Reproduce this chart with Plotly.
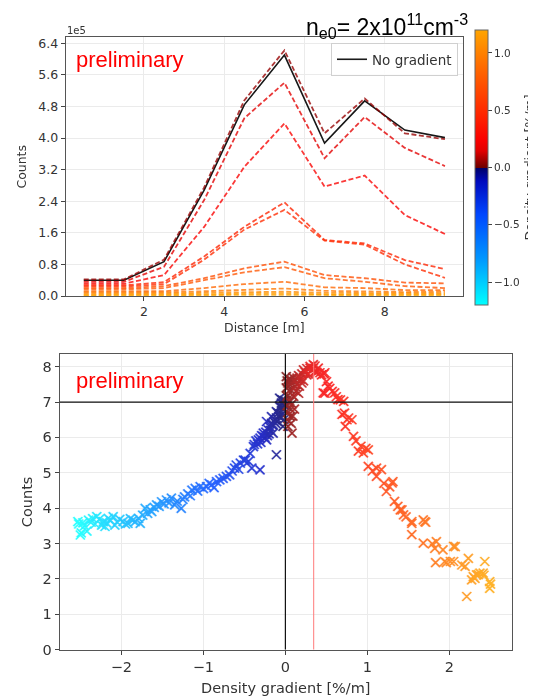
import plotly.graph_objects as go
from plotly.colors import sample_colorscale

# ---------------- data: top panel (counts in units of 1e5) ----------------
distance = [0.5, 1.5, 2.5, 3.5, 4.5, 5.5, 6.5, 7.5, 8.5, 9.5]
no_gradient = [0.40, 0.40, 0.87, 2.68, 4.84, 6.10, 3.87, 4.94, 4.20, 4.01]

gradients = [0.05, 0.15, 0.25, 0.45, 0.50, 0.70, 0.75, 0.85, 0.95, 1.05, 1.15, 1.20]
counts_g1 = [0.42, 0.42, 0.92, 2.75, 4.95, 6.22, 4.12, 5.00, 4.12, 3.97]
counts_g2 = [0.36, 0.36, 0.74, 2.43, 4.50, 5.40, 3.49, 4.53, 3.75, 3.29]
counts_g3 = [0.31, 0.31, 0.53, 1.75, 3.27, 4.37, 2.77, 3.05, 2.05, 1.57]
counts_g4 = [0.27, 0.27, 0.35, 1.00, 1.75, 2.37, 1.42, 1.33, 0.91, 0.68]
counts_g5 = [0.24, 0.24, 0.30, 0.92, 1.68, 2.18, 1.40, 1.30, 0.80, 0.46]
counts_g6 = [0.20, 0.20, 0.25, 0.45, 0.70, 0.87, 0.53, 0.45, 0.34, 0.32]
counts_g7 = [0.17, 0.17, 0.20, 0.40, 0.60, 0.73, 0.45, 0.36, 0.25, 0.20]
counts_g8 = [0.12, 0.12, 0.12, 0.20, 0.30, 0.36, 0.22, 0.20, 0.15, 0.15]
counts_g9 = [0.09, 0.09, 0.09, 0.12, 0.16, 0.19, 0.13, 0.11, 0.10, 0.11]
counts_g10 = [0.06, 0.06, 0.06, 0.08, 0.10, 0.11, 0.08, 0.07, 0.07, 0.07]
counts_g11 = [0.03, 0.03, 0.03, 0.04, 0.06, 0.07, 0.04, 0.04, 0.04, 0.04]
counts_g12 = [0.01, 0.01, 0.01, 0.02, 0.03, 0.03, 0.02, 0.02, 0.02, 0.02]
gradient_counts = [counts_g1, counts_g2, counts_g3, counts_g4, counts_g5, counts_g6,
                   counts_g7, counts_g8, counts_g9, counts_g10, counts_g11, counts_g12]

top_xticks = [2, 4, 6, 8]
top_yticks = [0.0, 0.8, 1.6, 2.4, 3.2, 4.0, 4.8, 5.6, 6.4]
cbar_ticks = [-1.0, -0.5, 0.0, 0.5, 1.0]
cbar_ticktext = ["\u22121.0", "\u22120.5", "0.0", "0.5", "1.0"]

# ---------------- data: bottom panel ----------------
grad_x = [
    -2.53, -2.52, -2.50, -2.49, -2.47, -2.45, -2.42, -2.40, -2.37, -2.35, -2.32, -2.30, -2.27, -2.24,
    -2.22, -2.20, -2.18, -2.16, -2.13, -2.10, -2.08, -2.05, -2.02, -1.98, -1.95, -1.92, -1.89, -1.86,
    -1.83, -1.79, -1.77, -1.74,
    -1.71, -1.68, -1.65, -1.63, -1.60, -1.57, -1.54, -1.51, -1.48, -1.45, -1.42, -1.39, -1.35, -1.32,
    -1.27, -1.25, -1.23, -1.19, -1.16, -1.14, -1.10, -1.07, -1.04, -1.00, -0.96, -0.93, -0.90, -0.87,
    -0.84, -0.80, -0.76, -0.72, -0.68, -0.65, -0.62, -0.60, -0.57, -0.55, -0.51, -0.49, -0.45, -0.43,
    -0.41, -0.39, -0.31,
    -0.38, -0.36, -0.34, -0.33, -0.31, -0.30, -0.29, -0.27, -0.27, -0.25, -0.24, -0.23, -0.23, -0.22,
    -0.21, -0.20, -0.19, -0.18, -0.17, -0.17, -0.16, -0.15, -0.15, -0.14, -0.13, -0.12, -0.11, -0.11,
    -0.11, -0.10, -0.09, -0.08, -0.07, -0.07, -0.06, -0.05, -0.05, -0.04, -0.04, -0.03, -0.03, -0.02,
    -0.02, -0.01, -0.01,
    0.01, 0.01, 0.02, 0.02, 0.02, 0.03, 0.03, 0.03, 0.03, 0.04, 0.04, 0.05, 0.05, 0.05, 0.06, 0.06,
    0.07, 0.07, 0.07, 0.08, 0.08, 0.08, 0.09, 0.09, 0.10, 0.10, 0.11, 0.12, 0.12, 0.13, 0.14, 0.14,
    0.16, 0.16,
    0.17, 0.18, 0.20, 0.20, 0.22, 0.22, 0.24, 0.26, 0.26, 0.28, 0.30, 0.30, 0.32, 0.34, 0.34, 0.36,
    0.36, 0.38, 0.40, 0.42, 0.44, 0.46, 0.47, 0.48, 0.48, 0.50, 0.52, 0.54, 0.57, 0.60, 0.62, 0.64,
    0.67, 0.69, 0.71, 0.72, 0.73, 0.75, 0.77, 0.81, 0.83, 0.86, 0.89, 0.92, 0.95, 0.98, 1.01,
    1.01, 1.06, 1.11, 1.11, 1.17, 1.20, 1.23, 1.27, 1.30, 1.31, 1.33, 1.37, 1.40, 1.42, 1.44, 1.47,
    1.54, 1.54, 1.54, 1.68, 1.70, 1.71, 1.68, 1.79,
    1.82, 1.84, 1.83, 1.92, 1.94, 1.96, 2.01, 2.05, 2.05, 2.07, 2.15, 2.19, 2.21, 2.23, 2.27, 2.29,
    2.31, 2.33, 2.35, 2.37, 2.41, 2.42, 2.43, 2.49, 2.50, 2.49,
]
counts_y = [
    3.62, 3.55, 3.24, 3.30, 3.58, 3.50, 3.35, 3.66, 3.60, 3.70, 3.55, 3.76, 3.68, 3.52,
    3.62, 3.48, 3.58, 3.71, 3.65, 3.76, 3.52, 3.60, 3.68, 3.62, 3.55, 3.57, 3.70, 3.66,
    3.62, 3.71, 3.57, 3.80,
    3.99, 3.85, 3.95, 3.90, 4.02, 4.09, 4.05, 4.18, 4.12, 4.23, 4.15, 4.28, 4.09, 4.20,
    3.99, 4.25, 4.32, 4.40, 4.35, 4.51, 4.56, 4.48, 4.61, 4.55, 4.61, 4.70, 4.66, 4.58,
    4.75, 4.80, 4.84, 4.90, 4.94, 5.05, 5.13, 5.22, 5.10, 5.27, 5.36, 5.36, 5.32, 5.55,
    5.13, 5.74, 5.08,
    5.80, 5.90, 5.82, 5.93, 5.98, 5.86, 6.05, 6.02, 6.12, 6.00, 6.15, 5.93, 6.45, 6.05,
    6.21, 6.10, 6.30, 6.20, 6.40, 6.59, 6.35, 6.12, 6.36, 6.45, 6.50, 6.40, 6.55, 6.73,
    5.51, 6.45, 6.69, 6.60, 6.87, 7.11, 6.55, 6.97, 6.85, 6.65, 7.06, 6.31, 6.95, 6.80,
    6.50, 7.05, 6.90,
    7.40, 7.72, 7.60, 7.16, 6.90, 7.20, 6.70, 7.54, 6.31, 7.45, 6.45, 7.00, 7.65, 6.83, 7.35, 6.59,
    6.40, 7.55, 7.63, 6.95, 6.12, 7.20, 6.60, 7.70, 7.16, 7.40, 6.80, 7.44, 7.60, 7.30, 7.68, 7.50,
    7.25, 7.75,
    7.45, 7.65, 7.54, 7.80, 7.91, 7.60, 7.85, 7.77, 7.95, 7.80, 7.96, 8.01, 7.90, 8.06, 7.95, 7.87,
    8.02, 7.85, 7.96, 7.83, 7.77, 7.26, 7.80, 7.83, 7.25, 7.58, 7.45, 7.39, 7.30, 7.26, 7.15, 7.07,
    7.06, 6.65, 7.02, 6.69, 6.31, 6.50, 6.55, 6.50, 6.03, 5.90, 5.61, 5.75, 5.56, 5.69, 5.65,
    5.18, 5.05, 5.13, 4.90, 5.09, 4.70, 4.47, 4.60, 4.71, 4.75, 4.19, 4.05, 3.95, 3.95, 3.81, 3.75,
    3.62, 3.57, 3.25, 3.67, 3.62, 3.60, 3.01, 2.99,
    2.86, 3.05, 2.46, 2.82, 2.49, 2.46, 2.49, 2.49, 2.92, 2.91, 2.39, 2.35, 1.50, 2.58, 1.97, 2.06,
    2.01, 2.11, 2.12, 2.16, 2.16, 2.10, 2.49, 1.92, 1.85, 1.73,
]
reference_level = 7.0
peak_gradient = 0.345
bottom_xticks = [-2, -1, 0, 1, 2]
bottom_xticktext = ["\u22122", "\u22121", "0", "1", "2"]
bottom_yticks = [0, 1, 2, 3, 4, 5, 6, 7, 8]

# ---------------- styling ----------------
CS = [
    [0.0, "rgb(0,255,255)"],
    [0.17, "rgb(0,150,255)"],
    [0.33, "rgb(0,70,255)"],
    [0.45, "rgb(0,10,190)"],
    [0.4999, "rgb(0,0,100)"],
    [0.5, "rgb(110,0,0)"],
    [0.56, "rgb(225,0,0)"],
    [0.6, "rgb(250,0,0)"],
    [0.7, "rgb(255,40,0)"],
    [0.85, "rgb(255,100,0)"],
    [1.0, "rgb(255,165,0)"],
]
CB_MIN, CB_MAX = -1.2, 1.2
SC_MIN, SC_MAX = -2.5, 2.5

# the page body has an 8px margin; figure placed at (8, 8)
OFF = 8
W, H = 536 - OFF, 697 - OFF
def px(x):
    return (x - OFF) / W
def py(y):
    return 1 - (y - OFF) / H

TICKFONT = dict(family="DejaVu Sans", size=12.5, color="#333")
TICKFONT2 = dict(family="DejaVu Sans", size=14.5, color="#333")

fig = go.Figure()

# top panel
fig.add_trace(go.Scatter(x=distance, y=no_gradient, mode="lines", name="No gradient",
                         line=dict(color="#1a1a1a", width=1.6), xaxis="x", yaxis="y",
                         showlegend=True))
norm = [(g - CB_MIN) / (CB_MAX - CB_MIN) for g in gradients]
line_colors = sample_colorscale(CS, norm)
for vals, col in zip(gradient_counts, line_colors):
    fig.add_trace(go.Scatter(x=distance, y=vals, mode="lines", showlegend=False,
                             line=dict(color=col, width=1.8, dash="5px,2.5px"),
                             opacity=0.78, xaxis="x", yaxis="y"))

# colorbar carrier (invisible markers)
fig.add_trace(go.Scatter(
    x=distance, y=counts_g12, mode="markers", showlegend=False, hoverinfo="skip",
    xaxis="x", yaxis="y",
    marker=dict(size=1, opacity=0, color=[gradients[-1]] * len(distance),
                colorscale=CS, cmin=CB_MIN, cmax=CB_MAX, showscale=True,
                colorbar=dict(
                    x=px(475), xanchor="left", xpad=0, ypad=0,
                    y=py(167.5), yanchor="middle", len=275 / H, lenmode="fraction",
                    thickness=13, thicknessmode="pixels",
                    outlinewidth=1, outlinecolor="#666",
                    tickvals=cbar_ticks, ticktext=cbar_ticktext,
                    ticks="outside", ticklen=4, tickcolor="#444",
                    tickfont=dict(family="DejaVu Sans", size=10.5, color="#333"),
                    title=dict(text="Density gradient [%/m]", side="right",
                               font=dict(family="DejaVu Sans", size=12.5, color="#333")),
                ))))

# bottom panel
fig.add_trace(go.Scatter(
    x=grad_x, y=counts_y, mode="markers", showlegend=False, xaxis="x2", yaxis="y2",
    opacity=0.85,
    marker=dict(symbol="x-thin", size=9,
                line=dict(width=1.7, color=grad_x, colorscale=CS, cmin=SC_MIN, cmax=SC_MAX))))

axis_common = dict(showline=True, mirror=True, linecolor="#555", linewidth=1.2,
                   showgrid=True, gridcolor="#ebebeb", gridwidth=1, zeroline=False,
                   ticks="outside", ticklen=4, tickwidth=1, tickcolor="#444",
                   automargin=False)

fig.update_layout(
    width=W, height=H,
    margin=dict(l=0, r=0, t=0, b=0, autoexpand=False),
    paper_bgcolor="white", plot_bgcolor="white",
    xaxis=dict(domain=[px(65.7), px(463)], range=[0.05, 9.95], anchor="y",
               tickvals=top_xticks, tickfont=TICKFONT, **axis_common),
    yaxis=dict(domain=[py(296), py(37.3)], range=[0, 6.55], anchor="x",
               tickvals=top_yticks, ticktext=[f"{v:.1f}" for v in top_yticks],
               tickfont=TICKFONT, **axis_common),
    xaxis2=dict(domain=[px(59.8), px(511.8)], range=[-2.75, 2.76], anchor="y2",
                tickvals=bottom_xticks, ticktext=bottom_xticktext, tickfont=TICKFONT2,
                **axis_common),
    yaxis2=dict(domain=[py(649.5), py(354)], range=[0, 8.36], anchor="x2",
                tickvals=bottom_yticks, tickfont=TICKFONT2, **axis_common),
    legend=dict(x=px(458), xanchor="right", y=py(43), yanchor="top",
                bgcolor="rgba(255,255,255,0.85)", bordercolor="#d0d0d0", borderwidth=1,
                font=dict(family="DejaVu Sans", size=13.5, color="#333"), itemwidth=30),
    shapes=[
        dict(type="line", xref="x2 domain", x0=0, x1=1, yref="y2", y0=reference_level,
             y1=reference_level, line=dict(color="#111", width=1.2), layer="above"),
        dict(type="line", xref="x2", x0=0, x1=0, yref="y2 domain", y0=0, y1=1,
             line=dict(color="#111", width=1.2), layer="above"),
        dict(type="line", xref="x2", x0=peak_gradient, x1=peak_gradient, yref="y2 domain",
             y0=0, y1=1, line=dict(color="#ff7a7a", width=1), layer="above"),
    ],
    annotations=[
        dict(text="n<sub>e0</sub>= 2x10<sup>11</sup>cm<sup>-3</sup>", xref="paper", yref="paper",
             x=px(386.5), y=py(8.5), xanchor="center", yanchor="top", showarrow=False,
             font=dict(family="Liberation Sans, Arial", size=23, color="black")),
        dict(text="preliminary", xref="paper", yref="paper", x=px(74), y=py(60),
             xanchor="left", yanchor="middle", showarrow=False,
             font=dict(family="Liberation Sans, Arial", size=22, color="red")),
        dict(text="preliminary", xref="paper", yref="paper", x=px(74), y=py(380),
             xanchor="left", yanchor="middle", showarrow=False,
             font=dict(family="Liberation Sans, Arial", size=22, color="red")),
        dict(text="1e5", xref="paper", yref="paper", x=px(65), y=py(31),
             xanchor="left", yanchor="middle", showarrow=False,
             font=dict(family="DejaVu Sans", size=10, color="#333")),
        dict(text="Counts", xref="paper", yref="paper", x=px(22), y=py(166.6),
             xanchor="center", yanchor="middle", textangle=-90, showarrow=False,
             font=dict(family="DejaVu Sans", size=12.5, color="#333")),
        dict(text="Distance [m]", xref="paper", yref="paper", x=px(264.4), y=py(327),
             xanchor="center", yanchor="middle", showarrow=False,
             font=dict(family="DejaVu Sans", size=12.5, color="#333")),
        dict(text="Counts", xref="paper", yref="paper", x=px(26.5), y=py(501.7),
             xanchor="center", yanchor="middle", textangle=-90, showarrow=False,
             font=dict(family="DejaVu Sans", size=14.5, color="#333")),
        dict(text="Density gradient [%/m]", xref="paper", yref="paper", x=px(285.8), y=py(688),
             xanchor="center", yanchor="middle", showarrow=False,
             font=dict(family="DejaVu Sans", size=14.5, color="#333")),
    ],
)

fig.write_html("out.html")
